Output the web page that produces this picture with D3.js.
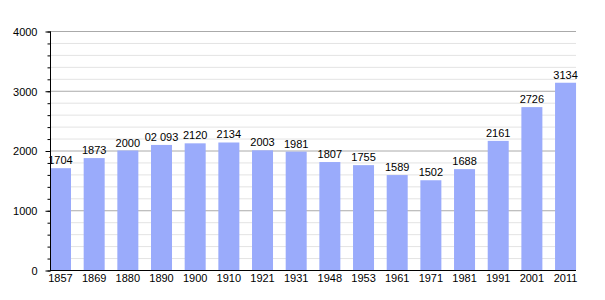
<!DOCTYPE html>
<html>
<head>
<meta charset="utf-8">
<script src="https://cdn.jsdelivr.net/npm/d3@7"></script>
<style>
body { margin: 0; background: #fff; }
text { font-family: "Liberation Sans", Arial, sans-serif; font-size: 11px; fill: #000; }
</style>
</head>
<body>
<svg width="605" height="300"></svg>
<script>
var svg = d3.select('svg');

// census years and population
var years = ['1857', '1869', '1880', '1890', '1900', '1910', '1921', '1931',
    '1948', '1953', '1961', '1971', '1981', '1991', '2001', '2011'];
var population = [1704, 1873, 2000, 2093, 2120, 2134, 2003, 1981,
    1807, 1755, 1589, 1502, 1688, 2161, 2726, 3134];
// labels as printed above the bars
var valueLabels = ['1704', '1873', '2000', '02 093', '2120', '2134', '2003', '1981',
    '1807', '1755', '1589', '1502', '1688', '2161', '2726', '3134'];
var yTicks = [0, 1000, 2000, 3000, 4000];

// plot edges (don't use "top", it clashes with window.top)
var pLeft = 50, pRight = 576, pTop = 31, pBottom = 270;

var y = d3.scaleLinear().domain([0, 4000]).range([pBottom, pTop]);

// bars sit at the left of each band
var step = 33.67;
var x = d3.scaleBand().domain(years).range([pLeft, pLeft + step * years.length]).padding(0);
var barW = 21;

// minor grid
svg.append('g')
    .selectAll('line')
    .data(d3.range(200, 4000, 200).filter(function (d) { return d % 1000 != 0; }))
    .enter()
    .append('line')
    .attr('x1', pLeft).attr('x2', pRight)
    .attr('y1', function (d) { return y(d) + 0.5; })
    .attr('y2', function (d) { return y(d) + 0.5; })
    .attr('stroke', '#e3e3e3');

// major grid
svg.append('g')
    .selectAll('line')
    .data(yTicks.slice(1))
    .enter()
    .append('line')
    .attr('x1', pLeft).attr('x2', pRight)
    .attr('y1', function (d) { return y(d) + 0.5; })
    .attr('y2', function (d) { return y(d) + 0.5; })
    .attr('stroke', '#aaa');

// bars
svg.selectAll('rect')
    .data(population)
    .enter()
    .append('rect')
    .attr('x', function (d, i) { return x(years[i]); })
    .attr('y', function (d) { return y(d); })
    .attr('width', barW)
    .attr('height', function (d) { return pBottom - y(d); })
    .attr('fill', '#9aabfb');

// value labels
svg.append('g')
    .selectAll('text')
    .data(population)
    .enter()
    .append('text')
    .attr('x', function (d, i) { return x(years[i]) + barW / 2; })
    .attr('y', function (d) { return y(d) - 4; })
    .attr('text-anchor', 'middle')
    .text(function (d, i) { return valueLabels[i]; });

// y axis: minor ticks
var yAxisMinor = d3.axisLeft(y).tickValues(d3.range(0, 4001, 200)).tickSize(3).tickFormat('');
var gm = svg.append('g').attr('transform', 'translate(' + (pLeft + 0.5) + ',0.5)').call(yAxisMinor);
gm.select('.domain').remove();
gm.selectAll('line').attr('stroke', '#000');

// y axis: major ticks + labels
var yAxis = d3.axisLeft(y).tickValues(yTicks).tickSize(5).tickPadding(8).tickFormat(d3.format('d'));
var gy = svg.append('g').attr('transform', 'translate(' + (pLeft + 0.5) + ',0.5)').call(yAxis);
gy.select('.domain').attr('d', 'M0,' + pTop + 'V' + pBottom).attr('stroke', '#000');
gy.selectAll('text').attr('font-family', null).attr('font-size', null).attr('dy', '0.35em');

// x axis line
svg.append('line')
    .attr('x1', pLeft).attr('x2', pRight)
    .attr('y1', pBottom + 0.5).attr('y2', pBottom + 0.5)
    .attr('stroke', '#000');

// year labels
svg.append('g')
    .selectAll('text')
    .data(years)
    .enter()
    .append('text')
    .attr('x', function (d) { return x(d) + barW / 2; })
    .attr('y', 282)
    .attr('text-anchor', 'middle')
    .text(function (d) { return d; });
</script>
</body>
</html>
